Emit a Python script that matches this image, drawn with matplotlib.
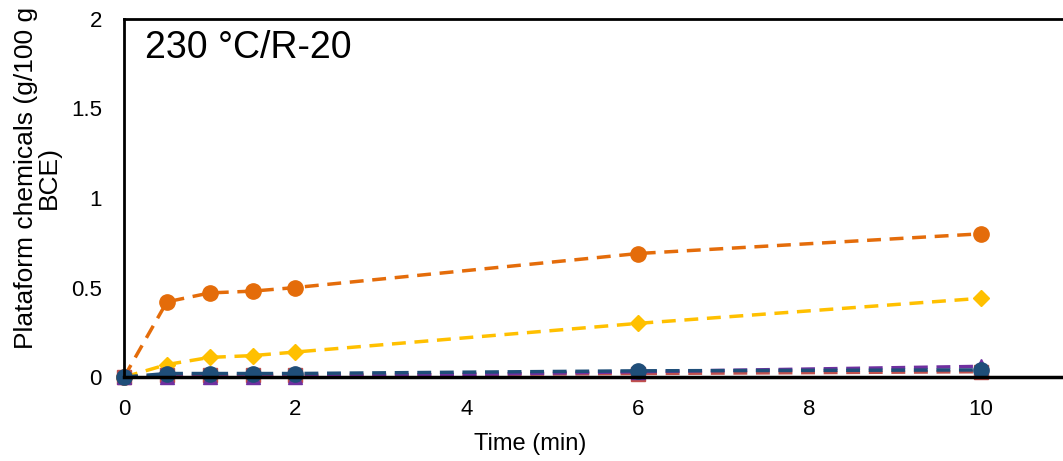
import matplotlib.pyplot as plt

plt.rcParams['font.family'] = ['Liberation Sans', 'DejaVu Sans']

time = [0, 0.5, 1, 1.5, 2, 6, 10]
orange = [0, 0.42, 0.47, 0.48, 0.50, 0.69, 0.80]
yellow = [0, 0.07, 0.11, 0.12, 0.14, 0.30, 0.44]
red = [0, 0.01, 0.01, 0.01, 0.01, 0.02, 0.03]
purple = [0, 0.0, 0.0, 0.0, 0.0, 0.03, 0.06]
blue = [0, 0.02, 0.02, 0.02, 0.02, 0.035, 0.04]

x_ticks = [0, 2, 4, 6, 8, 10]
y_ticks = [0, 0.5, 1, 1.5, 2]
y_labels = ["0", "0.5", "1", "1.5", "2"]

fig = plt.figure(figsize=(10.63, 4.61), dpi=100)
ax = fig.add_axes([0.1167, 0.182, 0.8833, 0.777])

style = dict(lw=2.5, dashes=(4, 2.5), clip_on=False)
ax.plot(time, orange, "--o", color="#E46C0A", ms=11, **style)
ax.plot(time, yellow, "--D", color="#FFC000", ms=8.5, **style)
ax.plot(time, red, "--s", color="#C0504D", ms=10, **style)
ax.plot(time, purple, "--^", color="#7030A0", ms=10, **style)
ax.plot(time, blue, "--o", color="#1F4E79", ms=11, **style)

ax.set_xlim(0, 10.96)
ax.set_ylim(0, 2)
ax.set_xticks(x_ticks)
ax.set_yticks(y_ticks)
ax.set_yticklabels(y_labels)
ax.tick_params(length=0, labelsize=16)
ax.tick_params(axis='x', pad=16)
ax.tick_params(axis='y', pad=16)

ax.spines['right'].set_visible(False)
ax.spines['bottom'].set_linewidth(2.5)
ax.spines['left'].set_linewidth(2)
ax.spines['top'].set_linewidth(2)

ax.set_xlabel("Time (min)", fontsize=17)
ax.xaxis.set_label_coords(0.433, -0.155)
ax.set_ylabel("Plataform chemicals (g/100 g\nBCE)", fontsize=19, linespacing=0.95)
ax.yaxis.set_label_coords(-0.067, 0.556)
ax.text(0.022, 0.92, "230 °C/R-20", transform=ax.transAxes, fontsize=27, va="center")

fig.savefig("out.png", dpi=100)
